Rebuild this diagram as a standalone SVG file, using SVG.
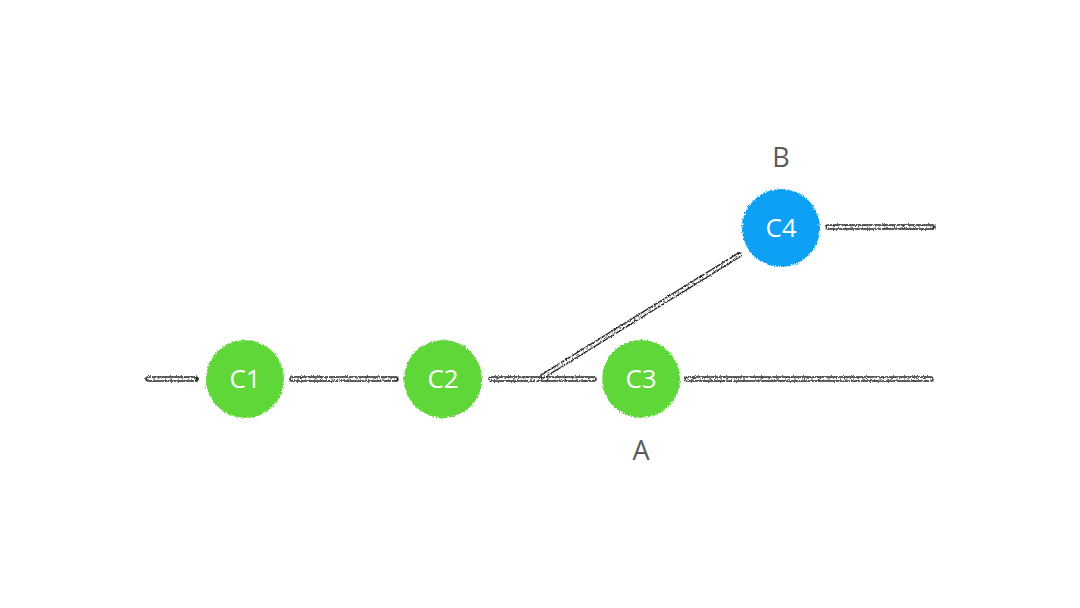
<svg xmlns="http://www.w3.org/2000/svg" width="1080" height="608" viewBox="0 0 1080 608">
  <defs>
    <!-- rough, chalky edge for the commit dots -->
    <filter id="rough" x="-20%" y="-20%" width="140%" height="140%">
      <feTurbulence type="fractalNoise" baseFrequency="0.9" numOctaves="2" seed="3" result="n"/>
      <feDisplacementMap in="SourceGraphic" in2="n" scale="4.5" xChannelSelector="R" yChannelSelector="G"/>
    </filter>
    <!-- grainy pencil look for the branch lines -->
    <filter id="grain" x="-5%" y="-50%" width="110%" height="200%">
      <feTurbulence type="fractalNoise" baseFrequency="1.3" numOctaves="2" seed="7" result="n"/>
      <feDisplacementMap in="SourceGraphic" in2="n" scale="3" xChannelSelector="R" yChannelSelector="G"/>
    </filter>
  </defs>
  <style>
    .edge-out { fill: none; stroke: #2a2a2a; stroke-width: 5.5; stroke-linecap: round; }
    .edge-in { fill: none; stroke: #ffffff; stroke-width: 2.6; stroke-linecap: round; stroke-dasharray: 5 1.5 2 1.5 7 2; }
    .edge-speck { fill: none; stroke: #555555; stroke-width: 1; stroke-dasharray: 1 4 2 6 1 3; }
    .dot-green { fill: #5fd737; }
    .dot-blue { fill: #07a0f5; }
    .dot-label { font-family: "Open Sans", "Liberation Sans", sans-serif; font-size: 26px; fill: #ffffff; text-anchor: middle; }
    .ref-label { font-family: "Open Sans", "Liberation Sans", sans-serif; font-size: 27px; fill: #5a5a5a; text-anchor: middle; }
  </style>
  <rect width="1080" height="608" fill="#ffffff"/>

  <!-- branch lines -->
  <g id="connectors" filter="url(#grain)">
    <path class="edge-out" d="M148 379 H196"/>
    <path class="edge-in" d="M148 379 H196"/>
    <path class="edge-speck" d="M148 379 H196"/>
    <path class="edge-out" d="M292 379 H396"/>
    <path class="edge-in" d="M292 379 H396"/>
    <path class="edge-speck" d="M292 379 H396"/>
    <path class="edge-out" d="M491 379 H594"/>
    <path class="edge-in" d="M491 379 H594"/>
    <path class="edge-speck" d="M491 379 H594"/>
    <path class="edge-out" d="M543 376 L739 255"/>
    <path class="edge-in" d="M543 376 L739 255"/>
    <path class="edge-speck" d="M543 376 L739 255"/>
    <path class="edge-out" d="M687 379 H931"/>
    <path class="edge-in" d="M687 379 H931"/>
    <path class="edge-speck" d="M687 379 H931"/>
    <path class="edge-out" d="M828 227 H933"/>
    <path class="edge-in" d="M828 227 H933"/>
    <path class="edge-speck" d="M828 227 H933"/>
  </g>

  <!-- commits -->
  <g id="c1">
    <circle class="dot-green" cx="245" cy="379" r="39" filter="url(#rough)"/>
    <text class="dot-label" x="245" y="388">C1</text>
  </g>
  <g id="c2">
    <circle class="dot-green" cx="443" cy="379" r="39" filter="url(#rough)"/>
    <text class="dot-label" x="443" y="388">C2</text>
  </g>
  <g id="c3">
    <circle class="dot-green" cx="641" cy="379" r="39" filter="url(#rough)"/>
    <text class="dot-label" x="641" y="388">C3</text>
  </g>
  <g id="c4">
    <circle class="dot-blue" cx="781" cy="228" r="39" filter="url(#rough)"/>
    <text class="dot-label" x="781" y="237">C4</text>
  </g>

  <!-- branch pointers -->
  <g id="label-a">
    <text class="ref-label" x="641" y="460">A</text>
  </g>
  <g id="label-b">
    <text class="ref-label" x="781" y="167">B</text>
  </g>
</svg>
